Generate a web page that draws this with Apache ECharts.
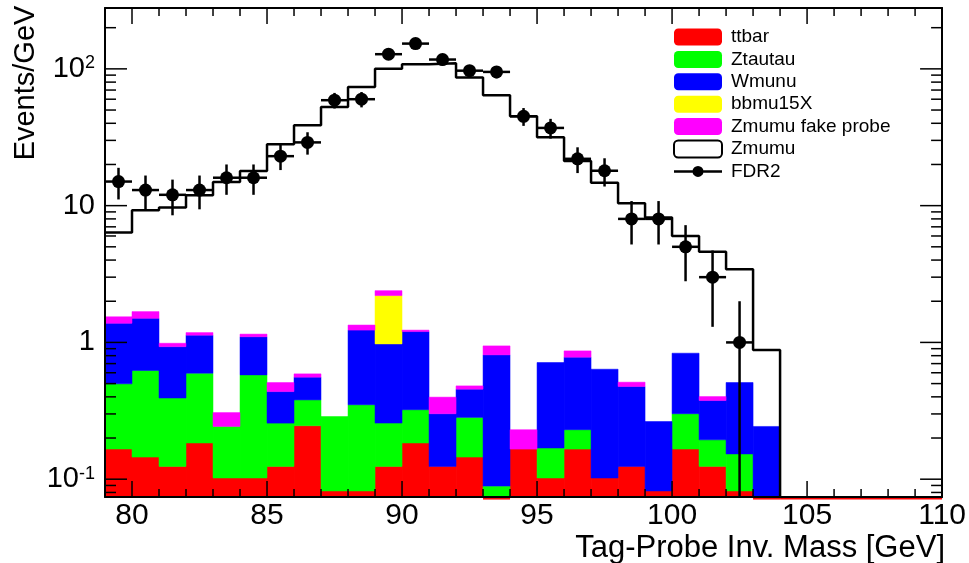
<!DOCTYPE html>
<html><head><meta charset="utf-8">
<script src="https://cdn.jsdelivr.net/npm/echarts@6/dist/echarts.min.js"></script>
<style>html,body{margin:0;padding:0;background:#fff}#c{width:969px;height:563px}</style>
</head><body><div id="c"></div>
<script>
// ---- data (Events/GeV per 1 GeV bin, lower bin edges) ----
const binLow    = [79,80,81,82,83,84,85,86,87,88,89,90,91,92,93,94,95,96,97,98,99,100,101,102,103];
const ttbar     = [0.166,0.145,0.124,0.184,0.102,0.102,0.124,0.246,0.082,0.082,0.124,0.184,0.124,0.145,0,0.166,0.102,0.166,0.102,0.124,0.082,0.166,0.124,0.082,0];
const ztautau   = [0.332,0.478,0.268,0.412,0.141,0.477,0.133,0.134,0.205,0.268,0.133,0.138,0,0.138,0.089,0,0.067,0.064,0,0,0,0.135,0.070,0.071,0];
const wmunu     = [0.882,0.877,0.539,0.534,0,0.521,0.180,0.177,0,0.880,0.718,0.878,0.177,0.172,0.722,0,0.544,0.550,0.535,0.352,0.182,0.533,0.182,0.356,0.243];
const bbmu15X   = [0,0,0,0,0,0,0,0,0,0,1.225,0,0,0,0,0,0,0,0,0,0,0,0,0,0];
const zmumuFake = [0.16,0.18,0.055,0.05,0.064,0.05,0.072,0.032,0,0.11,0.19,0.03,0.097,0.026,0.132,0.064,0,0.087,0,0.036,0,0,0.026,0,0];
const zmumu     = [6.37,9.27,9.7,11.9,14.9,17.9,28.1,38.7,52.6,73.6,100,108,110,86.5,64,45,31.6,21.2,14.7,10.4,8.2,6.0,4.6,3.42,0.88];
const fdr2X     = [79.5,80.5,81.5,82.5,83.5,84.5,85.5,86.5,87.5,88.5,89.5,90.5,91.5,92.5,93.5,94.5,95.5,96.5,97.5,98.5,99.5,100.5,101.5,102.5];
const fdr2      = [15,13,12,13,16,16,23,29,59,60,128,153,117,97,95,45,37,22,18,8,8,5,3,1];
const fdr2Err   = [3.9,3.6,3.5,3.6,4.0,4.0,4.8,5.4,7.7,7.7,11.3,12.4,10.8,9.8,9.7,6.7,6.1,4.7,4.2,2.8,2.8,2.2,1.7,1.0];
const xTickLabels = [80,85,90,95,100,105,110];
const yTickLabels = [0.1,1,10,100];
const xTicks = [80,81,82,83,84,85,86,87,88,89,90,91,92,93,94,95,96,97,98,99,100,101,102,103,104,105,106,107,108,109,110];
const yMinorTicks = [0.08,0.09,0.2,0.3,0.4,0.5,0.6,0.7,0.8,0.9,2,3,4,5,6,7,8,9,20,30,40,50,60,70,80,90,200];

// ---- axis ranges ----
const X_MIN = 79, X_MAX = 110, Y_MIN = 0.0741, Y_MAX = 278.6, BIN_W = 1;
const FONT = '"Liberation Sans", Arial, Helvetica, sans-serif';

// ---- stacked components ----
const comps = [
  {name:'ttbar', vals:ttbar, color:'#ff0000'},
  {name:'Ztautau', vals:ztautau, color:'#00ff00'},
  {name:'Wmunu', vals:wmunu, color:'#0000ff'},
  {name:'bbmu15X', vals:bbmu15X, color:'#ffff00'},
  {name:'Zmumu fake probe', vals:zmumuFake, color:'#ff00ff'}
];
const cum = binLow.map(() => 0);
const stackSeries = comps.map(c => {
  const data = [];
  binLow.forEach((x, i) => {
    const v = c.vals[i];
    if (v > 0) {
      const lo = cum[i] > 0 ? cum[i] : Y_MIN;
      const hi = cum[i] + v;
      data.push([x, x + BIN_W, lo, hi]);
      cum[i] = hi;
    }
  });
  return {
    name: c.name, type: 'custom', z: 2,
    itemStyle: {color: c.color},
    encode: {x: [0, 1], y: [2, 3]},
    data,
    renderItem: (params, api) => {
      const p0 = api.coord([api.value(0), api.value(3)]);
      const p1 = api.coord([api.value(1), api.value(2)]);
      return {type:'rect', shape:{x:p0[0], y:p0[1], width:p1[0]-p0[0], height:p1[1]-p0[1]},
              style:{fill:c.color, stroke:c.color, lineWidth:0.5}};
    }
  };
});

// ttbar zero bins: red line along the bottom
const zeroRanges = [];
binLow.forEach((x, i) => { if (ttbar[i] === 0) zeroRanges.push([x, x + BIN_W]); });
zeroRanges.push([binLow[binLow.length-1] + BIN_W, X_MAX]);

const zmumuLine = binLow.map((x, i) => [x, zmumu[i]]);
zmumuLine.push([binLow[binLow.length-1] + BIN_W, Y_MIN]);

const yTickData = yTickLabels.map(v => [X_MIN, v, 1]).concat(yMinorTicks.map(v => [X_MIN, v, 0]));
const xTickData = xTicks.map(v => [v, Y_MIN, v % 5 === 0 ? 1 : 0]);

const chart = echarts.init(document.getElementById('c'), null, {renderer:'canvas'});
const axisLineStyle = {show:true, onZero:false, lineStyle:{color:'#000', width:2}};
chart.setOption({
  backgroundColor:'#fff',
  animation:false,
  grid:{left:105, right:26, top:8, bottom:66},
  legend:{
    orient:'vertical', left:673, top:27.5, padding:0, itemWidth:48, itemHeight:17, itemGap:3.4,
    selectedMode:false,
    textStyle:{fontSize:19, fontFamily:FONT, color:'#000', padding:[0,0,0,4]},
    data:[
      {name:'ttbar', icon:'roundRect'},
      {name:'Ztautau', icon:'roundRect'},
      {name:'Wmunu', icon:'roundRect'},
      {name:'bbmu15X', icon:'roundRect'},
      {name:'Zmumu fake probe', icon:'roundRect'},
      {name:'Zmumu', icon:'roundRect', itemStyle:{color:'#fff', borderColor:'#000', borderWidth:2}},
      {name:'FDR2', icon:'path://M0,5L48,5L48,7.5L0,7.5Z M18.5,6.25A5.5,5.5 0 1 1 29.5,6.25A5.5,5.5 0 1 1 18.5,6.25Z', itemStyle:{color:'#000', opacity:1}}
    ]
  },
  xAxis:[
    {type:'value', min:X_MIN, max:X_MAX, position:'bottom', z:10,
     axisLine:axisLineStyle, axisTick:{show:false}, splitLine:{show:false},
     axisLabel:{customValues:xTickLabels, fontSize:30, fontFamily:FONT, color:'#000', margin:4}},
    {type:'value', min:X_MIN, max:X_MAX, position:'top', z:10,
     axisLine:axisLineStyle, axisTick:{show:false}, splitLine:{show:false}, axisLabel:{show:false}}
  ],
  yAxis:[
    {type:'log', logBase:10, min:Y_MIN, max:Y_MAX, position:'left', z:10,
     axisLine:axisLineStyle, axisTick:{show:false}, splitLine:{show:false},
     axisLabel:{customValues:yTickLabels, margin:10, color:'#000', fontFamily:FONT, fontSize:29,
       formatter: v => {
         const e = Math.round(Math.log10(v));
         if (e === 0) return '{a|1}';
         if (e === 1) return '{a|10}';
         return '{a|10}{s|' + e + '}';
       },
       rich:{a:{fontSize:29, fontFamily:FONT, color:'#000'},
             s:{fontSize:18, fontFamily:FONT, color:'#000', verticalAlign:'top', lineHeight:14}}}},
    {type:'log', logBase:10, min:Y_MIN, max:Y_MAX, position:'right', z:10,
     axisLine:axisLineStyle, axisTick:{show:false}, splitLine:{show:false}, axisLabel:{show:false}}
  ],
  graphic:[
    {type:'text', x:26, y:83, rotation:Math.PI/2,
     style:{text:'Events/GeV', fontSize:29, fontFamily:FONT, fill:'#000', align:'center', verticalAlign:'middle', textAlign:'center', textVerticalAlign:'middle'}},
    {type:'text', x:945, y:548,
     style:{text:'Tag-Probe Inv. Mass [GeV]', fontSize:31, fontFamily:FONT, fill:'#000', align:'right', verticalAlign:'middle', textAlign:'right', textVerticalAlign:'middle'}}
  ],
  series: stackSeries.concat([
    {name:'ttbarZero', type:'custom', z:9, silent:true, encode:{x:[0,1]},
     data: zeroRanges,
     renderItem:(params, api) => {
       const a = api.coord([api.value(0), Y_MIN]);
       const b = api.coord([api.value(1), Y_MIN]);
       return {type:'line', shape:{x1:a[0], y1:a[1]+1.8, x2:b[0], y2:b[1]+1.8}, style:{stroke:'#ff0000', lineWidth:1.5}};
     }},
    {name:'Zmumu', type:'line', step:'end', z:3, symbol:'none', showSymbol:false,
     data:zmumuLine, itemStyle:{color:'#000'}, lineStyle:{color:'#000', width:2.5}},
    {name:'FDR2err', type:'custom', z:4, silent:true, encode:{x:0, y:1},
     data: fdr2X.map((x, i) => [x, fdr2[i], fdr2Err[i]]),
     renderItem:(params, api) => {
       const x = api.value(0), y = api.value(1), e = api.value(2);
       const lo = Math.max(y - e, Y_MIN), hi = y + e;
       const v0 = api.coord([x, lo]), v1 = api.coord([x, hi]);
       const h0 = api.coord([x - BIN_W/2, y]), h1 = api.coord([x + BIN_W/2, y]);
       return {type:'group', children:[
         {type:'line', shape:{x1:v0[0], y1:v0[1], x2:v1[0], y2:v1[1]}, style:{stroke:'#000', lineWidth:2.5}},
         {type:'line', shape:{x1:h0[0], y1:h0[1], x2:h1[0], y2:h1[1]}, style:{stroke:'#000', lineWidth:2.5}}
       ]};
     }},
    {name:'FDR2', type:'scatter', z:5, symbol:'circle', symbolSize:13,
     data: fdr2X.map((x, i) => [x, fdr2[i]]), itemStyle:{color:'#000', opacity:1}},
    {name:'yticks', type:'custom', z:8, silent:true, encode:{x:0, y:1},
     data: yTickData,
     renderItem:(params, api) => {
       const v = api.value(1), len = api.value(2) ? 22 : 11;
       const p = api.coord([X_MIN, v]), q = api.coord([X_MAX, v]);
       return {type:'group', children:[
         {type:'line', shape:{x1:p[0], y1:p[1], x2:p[0]+len, y2:p[1]}, style:{stroke:'#000', lineWidth:1.5}},
         {type:'line', shape:{x1:q[0]-len, y1:q[1], x2:q[0], y2:q[1]}, style:{stroke:'#000', lineWidth:1.5}}
       ]};
     }},
    {name:'xticks', type:'custom', z:8, silent:true, encode:{x:0, y:1},
     data: xTickData,
     renderItem:(params, api) => {
       const x = api.value(0), len = api.value(2) ? 16 : 8;
       const p = api.coord([x, Y_MIN]), q = api.coord([x, Y_MAX]);
       return {type:'group', children:[
         {type:'line', shape:{x1:p[0], y1:p[1], x2:p[0], y2:p[1]-len}, style:{stroke:'#000', lineWidth:1.5}},
         {type:'line', shape:{x1:q[0], y1:q[1], x2:q[0], y2:q[1]+len}, style:{stroke:'#000', lineWidth:1.5}}
       ]};
     }}
  ])
});
</script></body></html>
